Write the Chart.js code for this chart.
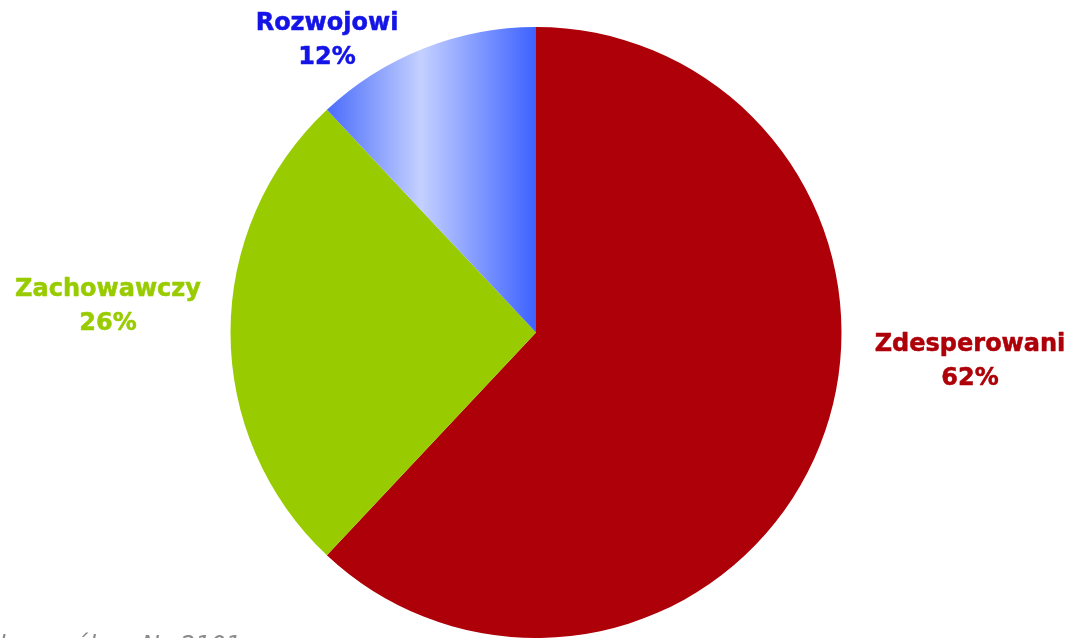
<!DOCTYPE html>
<html>
<head>
<meta charset="utf-8">
<script src="https://cdn.jsdelivr.net/npm/chart.js@4"></script>
<style>
  html, body { margin: 0; padding: 0; background: #fff; }
  #wrap { width: 1067px; height: 638px; position: relative; }
</style>
</head>
<body>
<div id="wrap"><canvas id="pieChart"></canvas></div>
<script>
// data
const segments = ['Zdesperowani', 'Zachowawczy', 'Rozwojowi'];
const shares = [62, 26, 12];
const sampleNote = 'Próba: ogółem N=2101';

const sliceColors = ['#ad0008', '#99cc00', null];
const labelColors = ['#ad0008', '#99cc00', '#1414e6'];
// label anchor (centre x, baseline of first line) per segment
const labelSpots = [[970, 351], [108, 296], [327, 30]];

// blue slice gets a horizontal gradient like the original
function blueFill(context) {
    const chart = context.chart;
    const area = chart.chartArea;
    if (!area) return '#6f8cff';
    const cx = (area.left + area.right) / 2;
    const r = Math.min(area.right - area.left, area.bottom - area.top) / 2;
    const total = shares.reduce((a, b) => a + b, 0);
    const ang = 2 * Math.PI * shares[2] / total;
    const x0 = cx - r * Math.sin(ang);
    const g = chart.ctx.createLinearGradient(x0, 0, cx, 0);
    g.addColorStop(0, '#4a6cfb');
    g.addColorStop(0.45, '#c4d0ff');
    g.addColorStop(1, '#3d62ff');
    return g;
}

const labelPlugin = {
    id: 'sliceLabels',
    afterDraw(chart) {
        const ctx = chart.ctx;
        ctx.save();
        ctx.font = 'bold 24px "DejaVu Sans", Verdana, sans-serif';
        ctx.textAlign = 'center';
        ctx.textBaseline = 'alphabetic';
        ctx.lineWidth = 0.5;
        ctx.lineJoin = 'round';
        segments.forEach((name, i) => {
            const [x, y] = labelSpots[i];
            ctx.fillStyle = labelColors[i];
            ctx.strokeStyle = labelColors[i];
            ctx.fillText(name, x, y);
            ctx.strokeText(name, x, y);
            ctx.fillText(shares[i] + '%', x, y + 34);
            ctx.strokeText(shares[i] + '%', x, y + 34);
        });
        ctx.font = 'oblique 24px "DejaVu Sans", Verdana, sans-serif';
        ctx.fillStyle = '#8a8a8a';
        ctx.textAlign = 'right';
        ctx.fillText(sampleNote, 241, 653);
        ctx.restore();
    }
};

new Chart(document.getElementById('pieChart').getContext('2d'), {
    type: 'pie',
    data: {
        labels: segments,
        datasets: [{
            data: shares,
            backgroundColor: function(context) {
                if (context.dataIndex === 2) return blueFill(context);
                return sliceColors[context.dataIndex];
            },
            borderWidth: 0
        }]
    },
    options: {
        responsive: true,
        maintainAspectRatio: false,
        animation: false,
        layout: { padding: { top: 27, bottom: 0, left: 5, right: 0 } },
        plugins: {
            legend: { display: false },
            tooltip: { enabled: false }
        }
    },
    plugins: [labelPlugin]
});
</script>
</body>
</html>
